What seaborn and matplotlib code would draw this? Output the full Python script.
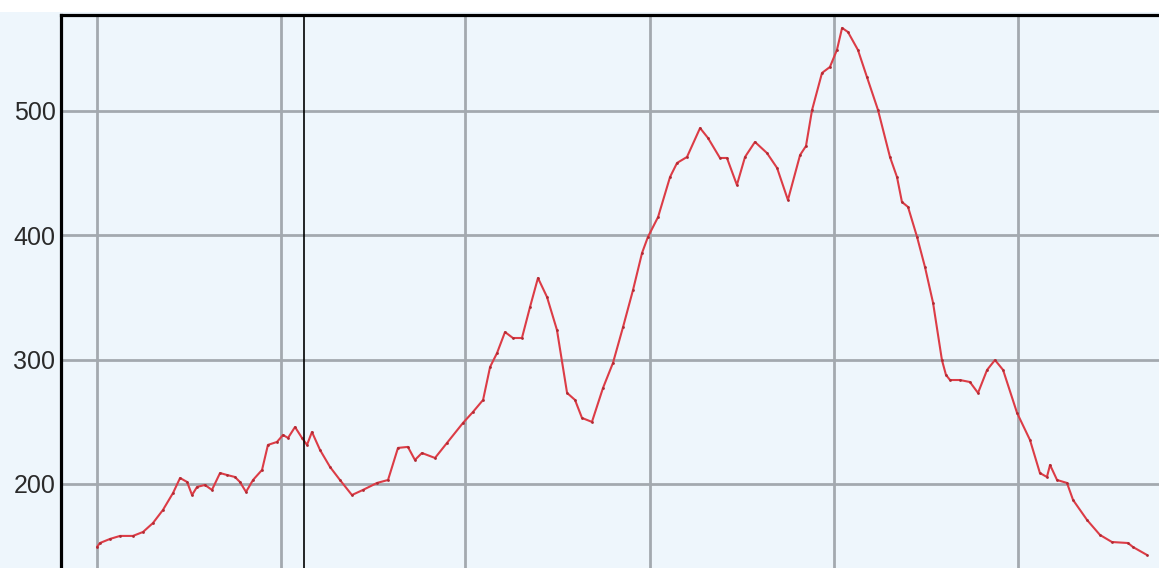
import pandas as pd
import matplotlib.pyplot as plt
import seaborn as sns
from matplotlib.patches import Rectangle

# profile (x in grid-spacing units, y in elevation)
distance = [0.000, 0.016, 0.071, 0.125, 0.195, 0.250, 0.304, 0.358, 0.413, 0.451,
            0.489, 0.516, 0.543, 0.586, 0.624, 0.668, 0.706, 0.749, 0.776, 0.809,
            0.847, 0.896, 0.928, 0.977, 1.010, 1.037, 1.075, 1.113, 1.140, 1.167,
            1.211, 1.265, 1.319, 1.384, 1.444, 1.520, 1.580, 1.634, 1.688, 1.726,
            1.764, 1.835, 1.900, 1.987, 2.041, 2.096, 2.134, 2.172, 2.215, 2.258,
            2.307, 2.351, 2.394, 2.443, 2.497, 2.552, 2.595, 2.633, 2.687, 2.747,
            2.801, 2.856, 2.910, 2.959, 2.991, 3.046, 3.111, 3.149, 3.203, 3.274,
            3.317, 3.382, 3.420, 3.474, 3.518, 3.572, 3.637, 3.692, 3.751, 3.817,
            3.849, 3.882, 3.936, 3.979, 4.017, 4.045, 4.077, 4.131, 4.180, 4.240,
            4.305, 4.343, 4.370, 4.403, 4.452, 4.495, 4.539, 4.587, 4.609, 4.631,
            4.685, 4.739, 4.783, 4.832, 4.875, 4.919, 4.995, 5.065, 5.119, 5.157,
            5.174, 5.212, 5.266, 5.299, 5.375, 5.445, 5.510, 5.597, 5.624, 5.700]
elevation = [149.3, 152.5, 155.8, 158.2, 158.2, 161.4, 168.6, 179.1, 192.8, 204.8,
             201.6, 191.1, 197.6, 199.2, 195.2, 208.8, 207.2, 205.6, 201.6, 193.6,
             203.2, 211.3, 231.4, 233.8, 239.4, 237.0, 245.8, 237.0, 231.4, 241.8,
             227.3, 213.7, 203.2, 191.1, 195.2, 200.8, 203.2, 229.0, 229.8, 219.3,
             224.9, 220.9, 233.0, 249.1, 257.9, 267.6, 294.1, 305.4, 322.2, 317.4,
             317.4, 342.4, 365.7, 350.4, 323.9, 273.2, 267.6, 253.1, 249.9, 277.2,
             297.3, 326.3, 356.0, 385.8, 398.7, 414.7, 446.9, 458.2, 463.0, 486.3,
             478.3, 462.2, 462.2, 440.5, 463.0, 475.1, 466.2, 454.2, 428.4, 464.6,
             471.8, 500.8, 530.6, 535.4, 549.1, 566.8, 563.5, 549.1, 527.3, 500.8,
             463.0, 446.9, 426.8, 422.8, 398.7, 374.5, 345.6, 299.7, 287.7, 283.6,
             283.6, 282.0, 273.2, 291.7, 299.7, 291.7, 257.1, 235.4, 208.8, 205.6,
             215.3, 203.2, 200.8, 187.1, 171.0, 159.0, 153.3, 152.5, 149.3, 142.9]

x_grid = [0, 1, 2, 3, 4, 5]
y_ticks = [200, 300, 400, 500]
cursor_x = 1.124

bg = '#eef6fc'
sns.set_style("whitegrid", {"axes.facecolor": bg, "grid.color": "#a3a9af"})
plt.rcParams['font.family'] = ['Liberation Sans', 'DejaVu Sans']

fig = plt.figure(figsize=(11.59, 5.68), dpi=100, facecolor=bg)
ax = fig.add_axes([61 / 1159, 0, 1 - 61 / 1159, 1 - 15 / 568])

df = pd.DataFrame({'distance': distance, 'elevation': elevation})
sns.lineplot(data=df, x='distance', y='elevation', ax=ax, color='#dc3c46',
             linewidth=1.5, marker='o', markersize=2, markeredgewidth=0,
             markerfacecolor='#b02a33', zorder=3)

ax.axvline(cursor_x, color='black', linewidth=1.2, zorder=4)

ax.set_xlim(-0.1954, 5.7655)
ax.set_ylim(132.4, 577.2)
ax.set_xticks(x_grid)
ax.set_xticklabels([])
ax.set_yticks(y_ticks)
ax.set_xlabel('')
ax.set_ylabel('')
ax.grid(True, color='#a3a9af', linewidth=2)
ax.tick_params(axis='both', length=0, pad=4, labelsize=18, labelcolor='#2a2a2a')

for side in ['right', 'bottom']:
    ax.spines[side].set_visible(False)
for side in ['top', 'left']:
    ax.spines[side].set_visible(True)
    ax.spines[side].set_color('black')
    ax.spines[side].set_linewidth(2.3)

# white strip above the plot frame
fig.patches.append(Rectangle((0, 1 - 12 / 568), 1, 12 / 568, transform=fig.transFigure,
                             facecolor='white', edgecolor='none', zorder=5))

fig.savefig('out.png', dpi=100, facecolor=bg)
plt.close()
